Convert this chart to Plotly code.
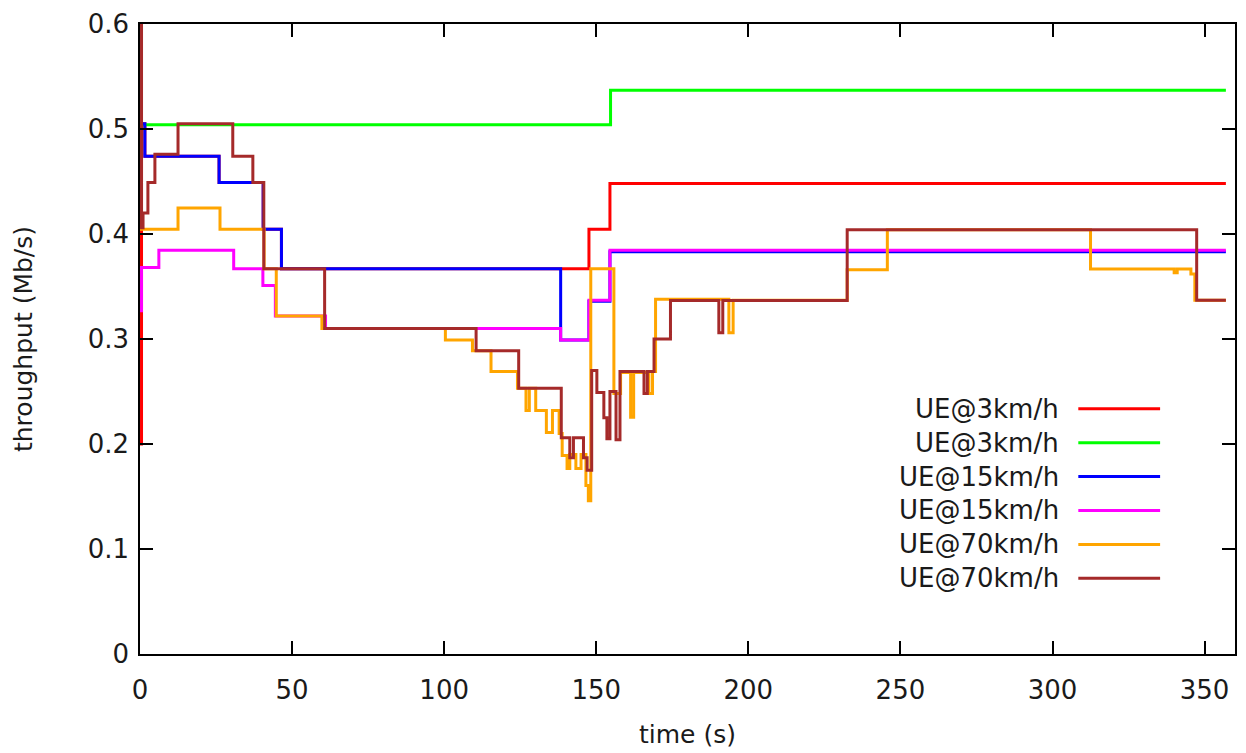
import plotly.graph_objects as go

# Throughput traces: each series is a list of change points (time in s, value in Mb/s);
# the value holds until the next change point.
labels = ["UE@3km/h", "UE@3km/h", "UE@15km/h", "UE@15km/h", "UE@70km/h", "UE@70km/h"]
colors = ["#ff0000", "#00ff00", "#0000ff", "#ff00ff", "#ffa500", "#a52a2a"]

red_t = [0, 0.5, 1.6, 26, 40.5, 46.5, 147.6, 154.5, 357]
red_v = [0.2, 0.505, 0.474, 0.449, 0.4045, 0.367, 0.4045, 0.448, 0.448]

green_t = [0, 154.7, 357]
green_v = [0.504, 0.537, 0.537]

blue_t = [0, 1.6, 26, 40.5, 46.5, 138.3, 147.6, 154.5, 357]
blue_v = [0.505, 0.474, 0.449, 0.4045, 0.367, 0.299, 0.336, 0.383, 0.383]

magenta_t = [0, 0.5, 6.2, 30.8, 40.4, 44.5, 61, 138.3, 147.6, 154.5, 357]
magenta_v = [0.327, 0.368, 0.3846, 0.367, 0.351, 0.322, 0.310, 0.299, 0.337, 0.3846, 0.3846]

orange_t = [0, 12.5, 26.3, 40.8, 44.8, 59.8, 100.4, 109.3, 115.4, 124.1,
            126.9, 128.0, 130.1, 133.6, 135.6, 137.8, 138.8, 140.4, 141.3,
            143.3, 145.0, 146.6, 147.4, 148.2, 155.8, 158.0, 161.3, 162.3,
            167.3, 168.5, 169.5, 193.6, 195.0, 232.5, 245.7, 312.5, 340.0,
            341.0, 345.5, 346.8, 357]
orange_v = [0.4045, 0.4248, 0.4045, 0.367, 0.322, 0.310, 0.299, 0.2887, 0.269, 0.253,
            0.232, 0.253, 0.232, 0.211, 0.232, 0.21, 0.189, 0.1766, 0.19,
            0.1766, 0.19, 0.1605, 0.146, 0.367, 0.248, 0.268, 0.2254, 0.268,
            0.248, 0.269, 0.3378, 0.306, 0.337, 0.366, 0.404, 0.3666, 0.363,
            0.3666, 0.362, 0.337, 0.337]

brown_t = [0, 0.5, 1.0, 2.6, 4.9, 12.5, 30.5, 37.1, 40.7, 60.7, 110.5, 124.5,
           138.5, 141.3, 142.5, 145.8, 147.0, 148.5, 150.2, 152.5, 153.5,
           154.5, 156.5, 157.8, 165.7, 166.8, 169.0, 174.4, 190.3, 191.6,
           232.5, 347.4, 357]
brown_v = [0.6, 0.406, 0.42, 0.449, 0.476, 0.505, 0.474, 0.449, 0.367, 0.310, 0.2887, 0.253,
           0.206, 0.187, 0.206, 0.187, 0.175, 0.27, 0.249, 0.225, 0.205,
           0.25, 0.204, 0.269, 0.248, 0.269, 0.300, 0.3366, 0.306, 0.3366,
           0.404, 0.337, 0.337]

series = [(red_t, red_v), (green_t, green_v), (blue_t, blue_v),
          (magenta_t, magenta_v), (orange_t, orange_v), (brown_t, brown_v)]

x_ticks = [0, 50, 100, 150, 200, 250, 300, 350]
y_ticks = [0, 0.1, 0.2, 0.3, 0.4, 0.5, 0.6]

FONT = "DejaVu Sans"
TEXT_COLOR = "#1a1a1a"

fig = go.Figure()
for (t, v), name, col in zip(series, labels, colors):
    fig.add_trace(go.Scatter(
        x=t, y=v, mode="lines", name=name,
        line=dict(color=col, width=3, shape="hv"),
        showlegend=False,
    ))

# Key drawn at the right: label text right-aligned, sample line after it
key_text_x = 0.8414
key_line_x0, key_line_x1 = 0.8569, 0.9316
key_y0, key_dy = 0.3892, 0.0538
for i, (name, col) in enumerate(zip(labels, colors)):
    y = key_y0 - i * key_dy
    fig.add_annotation(x=key_text_x, y=y, xref="paper", yref="paper",
                       text=name, showarrow=False, xanchor="right", yanchor="middle",
                       font=dict(family=FONT, size=26, color=TEXT_COLOR))
    fig.add_shape(type="line", xref="paper", yref="paper",
                  x0=key_line_x0, x1=key_line_x1, y0=y, y1=y,
                  line=dict(color=col, width=3))

axis_common = dict(
    showline=True, linecolor="black", linewidth=1.5, mirror="allticks",
    ticks="inside", ticklen=13, tickwidth=1.5, tickcolor="black",
    showgrid=False, zeroline=False,
    tickfont=dict(family=FONT, size=26, color=TEXT_COLOR),
)

fig.update_layout(
    width=1246, height=753,
    margin=dict(l=140, r=9, t=22, b=99),
    plot_bgcolor="white", paper_bgcolor="white",
    xaxis=dict(range=[0, 360], tickvals=x_ticks, ticklabelstandoff=12,
               title=dict(text="time (s)", font=dict(family=FONT, size=25, color=TEXT_COLOR),
                          standoff=22),
               **axis_common),
    yaxis=dict(range=[0, 0.6], tickvals=y_ticks, ticklabelstandoff=4,
               title=dict(text="throughput (Mb/s)", font=dict(family=FONT, size=25, color=TEXT_COLOR),
                          standoff=48),
               **axis_common),
)

fig.write_html("out.html")
